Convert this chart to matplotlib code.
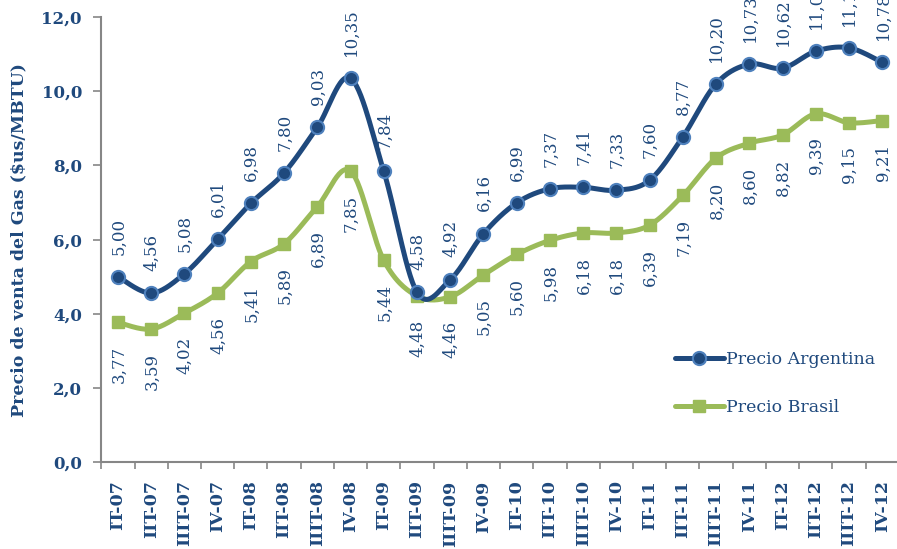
import matplotlib
matplotlib.use("Agg")
import matplotlib.pyplot as plt
import numpy as np

# quarters and prices (US$/MBTU)
quarters = ["IT-07", "IIT-07", "IIIT-07", "IV-07", "IT-08", "IIT-08", "IIIT-08", "IV-08",
            "IT-09", "IIT-09", "IIIT-09", "IV-09", "IT-10", "IIT-10", "IIIT-10", "IV-10",
            "IT-11", "IIT-11", "IIIT-11", "IV-11", "IT-12", "IIT-12", "IIIT-12", "IV-12"]
argentina = [5.00, 4.56, 5.08, 6.01, 6.98, 7.80, 9.03, 10.35, 7.84, 4.58, 4.92, 6.16,
             6.99, 7.37, 7.41, 7.33, 7.60, 8.77, 10.20, 10.73, 10.62, 11.08, 11.17, 10.78]
brasil = [3.77, 3.59, 4.02, 4.56, 5.41, 5.89, 6.89, 7.85, 5.44, 4.48, 4.46, 5.05,
          5.60, 5.98, 6.18, 6.18, 6.39, 7.19, 8.20, 8.60, 8.82, 9.39, 9.15, 9.21]
yticks = [0, 2, 4, 6, 8, 10, 12]

NAVY = "#1F497D"
LBLUE = "#4F81BD"
GREEN = "#9BBB59"
GREY = "#868686"
SERIF = ["DejaVu Serif"]


def smooth(x, y, n=30):
    # excel-like smoothed line: cubic bezier with catmull-rom control points
    x = np.asarray(x, float)
    y = np.asarray(y, float)
    px = np.concatenate([[x[0]], x, [x[-1]]])
    py = np.concatenate([[y[0]], y, [y[-1]]])
    xs, ys = [], []
    t = np.linspace(0, 1, n)
    for i in range(len(x) - 1):
        p0 = np.array([px[i + 1], py[i + 1]])
        p3 = np.array([px[i + 2], py[i + 2]])
        c1 = p0 + (p3 - np.array([px[i], py[i]])) / 6
        c2 = p3 - (np.array([px[i + 3], py[i + 3]]) - p0) / 6
        b = ((1 - t) ** 3)[:, None] * p0 + (3 * (1 - t) ** 2 * t)[:, None] * c1 \
            + (3 * (1 - t) * t ** 2)[:, None] * c2 + (t ** 3)[:, None] * p3
        xs.extend(b[:, 0])
        ys.extend(b[:, 1])
    return xs, ys


fig = plt.figure(figsize=(8.97, 5.49), dpi=100)
ax = fig.add_axes([0.113, 0.158, 0.889, 0.811])

x = np.arange(len(quarters))

sx, sy = smooth(x, brasil)
ax.plot(sx, sy, color=GREEN, lw=3.6, solid_capstyle="round", zorder=2)
ax.plot(x, brasil, ls="none", marker="s", ms=8, mfc=GREEN, mec=GREEN, zorder=3)

sx, sy = smooth(x, argentina)
ax.plot(sx, sy, color=NAVY, lw=3.6, solid_capstyle="round", zorder=4)
ax.plot(x, argentina, ls="none", marker="o", ms=9.5, mfc=NAVY, mec=LBLUE, mew=1.5, zorder=5)

for xi, v in zip(x, argentina):
    ax.annotate(f"{v:.2f}".replace(".", ","), (xi, v), xytext=(0.5, 16),
                textcoords="offset points", rotation=90, ha="center", va="bottom",
                fontsize=12, color=NAVY, family=SERIF, zorder=6, annotation_clip=False)
for xi, v in zip(x, brasil):
    ax.annotate(f"{v:.2f}".replace(".", ","), (xi, v), xytext=(0.5, -17),
                textcoords="offset points", rotation=90, ha="center", va="top",
                fontsize=12, color=NAVY, family=SERIF, zorder=6)

# legend handles
ax.plot([], [], color=NAVY, lw=3.6, marker="o", ms=9.5, mfc=NAVY, mec=LBLUE, mew=1.5,
        solid_capstyle="round", label="Precio Argentina")
ax.plot([], [], color=GREEN, lw=3.6, marker="s", ms=8, mfc=GREEN, mec=GREEN,
        solid_capstyle="round", label="Precio Brasil")
handles, labels = ax.get_legend_handles_labels()
leg = ax.legend(handles[-2:], labels[-2:], loc="upper left", bbox_to_anchor=(0.70, 0.285),
                frameon=False, handlelength=2.8, handletextpad=0.1, labelspacing=1.8,
                prop={"family": SERIF, "size": 12.5})
for t in leg.get_texts():
    t.set_color(NAVY)

ax.set_xlim(-0.5, len(quarters) - 0.5)
ax.set_ylim(0, 12)
ax.set_yticks(yticks)
ax.set_yticklabels([f"{v:.1f}".replace(".", ",") for v in yticks],
                   fontsize=12, fontweight="bold", color=NAVY, family=SERIF)
ax.set_xticks(x)
ax.set_xticklabels(quarters, rotation=90, fontsize=12.5, fontweight="bold",
                   color=NAVY, family=SERIF)
ax.set_xticks(np.arange(len(quarters)) - 0.5, minor=True)
ax.tick_params(axis="x", which="major", length=0, pad=13)
ax.tick_params(axis="x", which="minor", length=5, color=GREY, width=1.2)
ax.tick_params(axis="y", length=6, color=GREY, width=1.2, pad=8)

ax.set_ylabel("Precio de venta del Gas ($us/MBTU)", fontsize=12.5, fontweight="bold",
              color=NAVY, family=SERIF, labelpad=10)

for s in ["top", "right"]:
    ax.spines[s].set_visible(False)
for s in ["left", "bottom"]:
    ax.spines[s].set_color(GREY)
    ax.spines[s].set_linewidth(1.5)

fig.savefig("out.png", dpi=100)
